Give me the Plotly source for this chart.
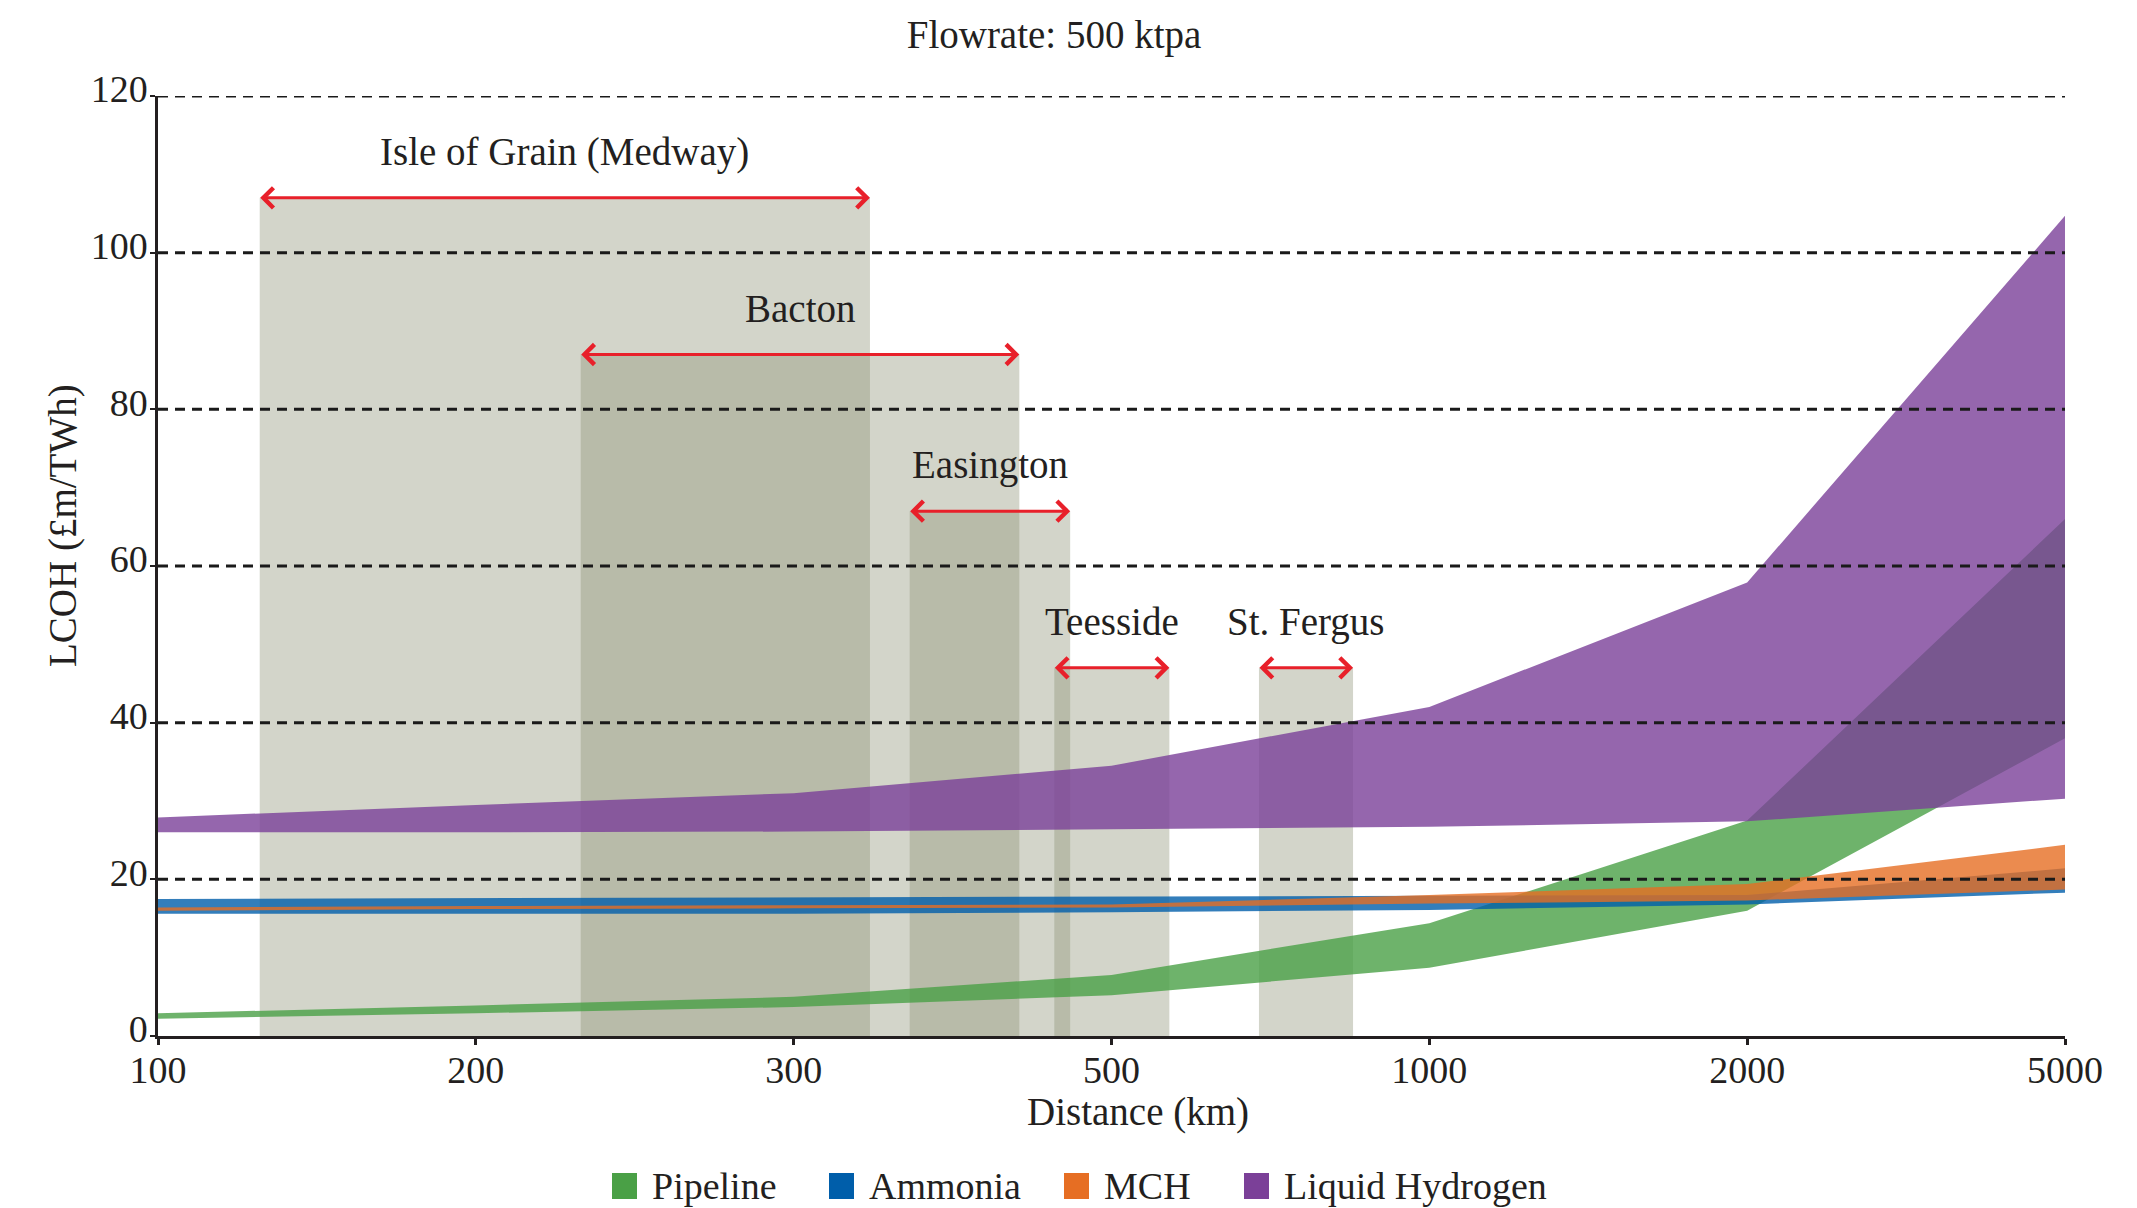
import numpy as np
import plotly.graph_objects as go

# ---------------- data ----------------
distances = [100, 200, 300, 500, 1000, 2000, 5000]
distance_labels = ["100", "200", "300", "500", "1000", "2000", "5000"]

pipeline_low = [2.2, 2.9, 3.7, 5.2, 8.7, 16.0, 38.0]
pipeline_high = [2.9, 3.9, 5.0, 7.8, 14.4, 27.5, 66.0]
ammonia_low = [15.6, 15.6, 15.6, 15.8, 16.1, 16.8, 18.3]
ammonia_high = [17.5, 17.6, 17.7, 17.8, 17.9, 18.0, 21.4]
mch_low = [16.0, 16.2, 16.3, 16.4, 16.9, 17.3, 18.7]
mch_high = [16.4, 16.6, 16.7, 16.8, 18.0, 19.4, 24.4]
lh2_low = [26.0, 26.0, 26.1, 26.4, 26.7, 27.4, 30.3]
lh2_high = [27.9, 29.5, 31.0, 34.5, 42.0, 57.9, 104.7]

y_ticks = [0, 20, 40, 60, 80, 100, 120]

terminals = ["Isle of Grain (Medway)", "Bacton", "Easington", "Teesside", "St. Fergus"]
terminal_min_km = [132, 233, 373, 464, 732]
terminal_max_km = [348, 442, 474, 591, 880]
terminal_lcoh = [107, 87, 67, 47, 47]

series_names = ["Pipeline", "Ammonia", "MCH", "Liquid Hydrogen"]
series_low = [pipeline_low, ammonia_low, mch_low, lh2_low]
series_high = [pipeline_high, ammonia_high, mch_high, lh2_high]
series_rgb = [(74, 160, 70), (0, 94, 170), (230, 110, 35), (123, 64, 152)]

# ---------------- helpers ----------------
pos = list(range(len(distances)))


def km_to_pos(km):
    return float(np.interp(km, distances, pos))


FONT = "Liberation Serif, Times New Roman, serif"
TXT = "#231f20"
FS = 39
FS_TICK = 38
FS_LEG = 38

W, H = 2137, 1208
ML, MR, MT, MB = 158, 72, 96, 172
PW = W - ML - MR
PH = H - MT - MB


def px_to_paper_x(px):
    return (px - ML) / PW


def px_to_paper_y(py):
    return (H - MB - py) / PH


fig = go.Figure()

for name, lo, hi, rgb in zip(series_names, series_low, series_high, series_rgb):
    fill = "rgba(%d,%d,%d,0.8)" % rgb
    fig.add_trace(go.Scatter(x=pos, y=lo, mode="lines", line=dict(width=0),
                             showlegend=False, hoverinfo="skip"))
    fig.add_trace(go.Scatter(x=pos, y=hi, mode="lines", line=dict(width=0),
                             fill="tonexty", fillcolor=fill, name=name,
                             showlegend=False))

shapes = []
annotations = []

# terminal shaded ranges, arrows and labels
for name, a, b, top in zip(terminals, terminal_min_km, terminal_max_km, terminal_lcoh):
    x0, x1 = km_to_pos(a), km_to_pos(b)
    shapes.append(dict(type="rect", xref="x", yref="y", x0=x0, x1=x1, y0=0, y1=top,
                       fillcolor="rgba(140,145,115,0.38)", line=dict(width=0),
                       layer="below"))
    annotations.append(dict(x=x1, y=top, ax=x0, ay=top, xref="x", yref="y",
                            axref="x", ayref="y", text="", showarrow=True,
                            arrowside="end+start", arrowhead=4, startarrowhead=4,
                            arrowsize=1.3, startarrowsize=1.3, arrowwidth=3,
                            arrowcolor="#e8202a", standoff=0, startstandoff=0,
                            borderpad=0))
    annotations.append(dict(x=(x0 + x1) / 2, y=top, xref="x", yref="y", text=name,
                            showarrow=False, yanchor="middle", yshift=46,
                            font=dict(family=FONT, size=FS, color=TXT)))

# dashed grid lines drawn above the areas
for v in y_ticks[1:]:
    shapes.append(dict(type="line", xref="paper", yref="y", x0=0, x1=1, y0=v, y1=v,
                       line=dict(color="#1a1a1a", width=3, dash="10px,7px"),
                       layer="above"))

# axis titles
annotations.append(dict(x=px_to_paper_x(63), y=px_to_paper_y(526), xref="paper",
                        yref="paper", text="LCOH (£m/TWh)", textangle=-90,
                        showarrow=False, xanchor="center", yanchor="middle",
                        font=dict(family=FONT, size=FS, color=TXT)))
annotations.append(dict(x=px_to_paper_x(1138), y=px_to_paper_y(1112), xref="paper",
                        yref="paper", text="Distance (km)", showarrow=False,
                        xanchor="center", yanchor="middle",
                        font=dict(family=FONT, size=FS, color=TXT)))

# legend
legend_sq_left = [612, 829, 1064, 1244]
legend_y = px_to_paper_y(1186)
for name, rgb, left in zip(series_names, series_rgb, legend_sq_left):
    shapes.append(dict(type="rect", xref="paper", yref="paper",
                       xsizemode="pixel", ysizemode="pixel",
                       xanchor=px_to_paper_x(left), yanchor=legend_y,
                       x0=0, x1=25, y0=-13, y1=13,
                       fillcolor="rgb(%d,%d,%d)" % rgb, line=dict(width=0)))
    annotations.append(dict(x=px_to_paper_x(left + 38), y=legend_y, xref="paper",
                            yref="paper", text=name, showarrow=False,
                            xanchor="left", yanchor="middle",
                            font=dict(family=FONT, size=FS_LEG, color=TXT)))

fig.update_layout(
    width=W, height=H,
    margin=dict(l=ML, r=MR, t=MT, b=MB),
    paper_bgcolor="white", plot_bgcolor="white",
    title=dict(text="Flowrate: 500 ktpa", x=1054 / W, xanchor="center",
               y=1 - 34 / H, yanchor="middle",
               font=dict(family=FONT, size=FS, color=TXT)),
    font=dict(family=FONT, size=FS, color=TXT),
    showlegend=False,
    shapes=shapes,
    annotations=annotations,
    xaxis=dict(range=[0, len(distances) - 1], tickmode="array", tickvals=pos,
               ticktext=distance_labels, showgrid=False, zeroline=False,
               showline=True, linecolor="#231f20", linewidth=3,
               ticks="outside", ticklen=6, tickwidth=2.5, tickcolor="#231f20",
               ticklabelstandoff=-8,
               tickfont=dict(family=FONT, size=FS_TICK, color=TXT),
               layer="above traces"),
    yaxis=dict(range=[0, 120], tickmode="array", tickvals=y_ticks,
               showgrid=False, zeroline=False, showline=True,
               linecolor="#231f20", linewidth=2.5, ticks="outside", ticklen=5,
               tickwidth=2, tickcolor="#231f20", ticklabelstandoff=-5,
               ticklabelshift=-7,
               tickfont=dict(family=FONT, size=FS_TICK, color=TXT),
               layer="above traces"),
)

fig.write_html("out.html", config={"displayModeBar": False},
               post_script="document.body.style.margin='0';document.body.style.overflow='hidden';")
